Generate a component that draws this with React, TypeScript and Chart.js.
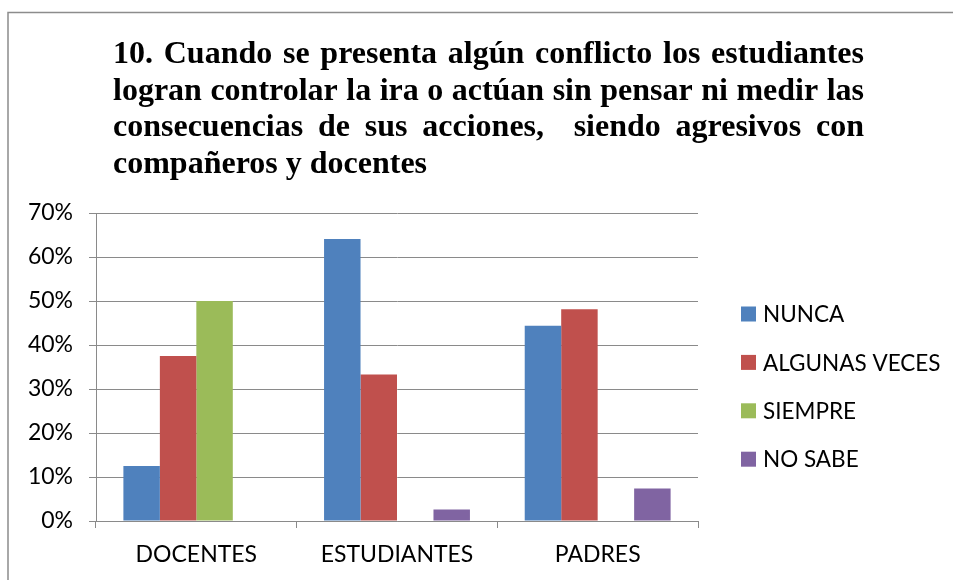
import { useEffect, useRef } from "react";
import { Chart, registerables } from "chart.js";

Chart.register(...registerables);

const categories = ["DOCENTES", "ESTUDIANTES", "PADRES"];
const seriesNames = ["NUNCA", "ALGUNAS VECES", "SIEMPRE", "NO SABE"];
const nunca = [0.125, 0.641, 0.444];
const algunasVeces = [0.375, 0.333, 0.481];
const siempre = [0.5, 0, 0];
const noSabe = [0, 0.026, 0.074];
const seriesColors = ["#4F81BD", "#C0504D", "#9BBB59", "#8064A2"];
const titleLines = [
  "10. Cuando se presenta algún conflicto los estudiantes",
  "logran controlar la ira o actúan sin pensar ni medir las",
  "consecuencias de sus acciones,  siendo agresivos con",
  "compañeros y docentes",
];

const W = 953;
const H = 580;
const AXIS_FONT = "Lato, 'Liberation Sans', sans-serif";
const GRID = "#8a8a8a";

const framePlugin = {
  id: "frame",
  beforeDraw(chart: any) {
    const ctx = chart.ctx;
    ctx.save();
    ctx.fillStyle = "#ffffff";
    ctx.fillRect(0, 0, W, H);
    ctx.strokeStyle = "#8c8c8c";
    ctx.lineWidth = 1.5;
    ctx.strokeRect(8, 12.5, W + 20, H + 20);
    ctx.restore();
  },
};

const titlePlugin = {
  id: "justifiedTitle",
  afterDraw(chart: any) {
    const ctx = chart.ctx;
    const left = 113;
    const right = 864;
    const baselines = [63, 99.7, 136.3, 173];
    ctx.save();
    ctx.fillStyle = "#000000";
    ctx.font = "bold 32px 'Liberation Serif', 'Times New Roman', serif";
    ctx.textBaseline = "alphabetic";
    ctx.textAlign = "left";
    titleLines.forEach((line, i) => {
      const y = baselines[i];
      if (i === titleLines.length - 1) {
        ctx.fillText(line, left, y);
        return;
      }
      const words = line.split(" ");
      const widths = words.map((w) => ctx.measureText(w).width);
      const total = widths.reduce((a, b) => a + b, 0);
      const gap = (right - left - total) / (words.length - 1);
      let x = left;
      words.forEach((w, j) => {
        if (w) ctx.fillText(w, x, y);
        x += widths[j] + gap;
      });
    });
    ctx.restore();
  },
};

const legendPlugin = {
  id: "sideLegend",
  afterDraw(chart: any) {
    const ctx = chart.ctx;
    const boxX = 741;
    const textX = 763;
    const startY = 314;
    const step = 48.4;
    const box = 15;
    ctx.save();
    ctx.font = "22.5px " + AXIS_FONT;
    ctx.textBaseline = "middle";
    ctx.textAlign = "left";
    chart.data.datasets.forEach((ds: any, i: number) => {
      const cy = startY + i * step;
      ctx.fillStyle = ds.backgroundColor;
      ctx.fillRect(boxX, cy - box / 2, box, box);
      ctx.fillStyle = "#000000";
      ctx.fillText(ds.label, textX, cy + 1);
    });
    ctx.restore();
  },
};

export default function App() {
  const ref = useRef<HTMLCanvasElement | null>(null);

  useEffect(() => {
    if (!ref.current) return;
    const seriesData = [nunca, algunasVeces, siempre, noSabe];
    const chart = new Chart(ref.current, {
      type: "bar",
      data: {
        labels: categories,
        datasets: seriesNames.map((name, i) => ({
          label: name,
          data: seriesData[i],
          backgroundColor: seriesColors[i],
          borderWidth: 0,
          barPercentage: 1,
          categoryPercentage: 0.727,
        })),
      },
      options: {
        responsive: false,
        animation: false,
        devicePixelRatio: 1,
        layout: { padding: { top: 213, right: 255, left: 0, bottom: 0 } },
        plugins: {
          legend: { display: false },
          title: { display: false },
          tooltip: { enabled: false },
        },
        scales: {
          x: {
            offset: true,
            grid: {
              offset: true,
              drawOnChartArea: false,
              drawTicks: true,
              tickLength: 7,
              color: GRID,
            },
            border: { display: true, color: GRID, width: 1 },
            ticks: {
              color: "#000000",
              font: { family: AXIS_FONT, size: 23 },
              padding: 13,
              maxRotation: 0,
            },
            afterFit(scale: any) {
              scale.height = 59;
            },
          },
          y: {
            min: 0,
            max: 0.7,
            grid: { color: GRID, tickLength: 7, lineWidth: 1 },
            border: { display: true, color: GRID, width: 1 },
            ticks: {
              stepSize: 0.1,
              color: "#000000",
              font: { family: AXIS_FONT, size: 23 },
              padding: 16,
              callback: (v: any) => Math.round(Number(v) * 100) + "%",
            },
            afterFit(scale: any) {
              scale.width = 96;
            },
          },
        },
      },
      plugins: [framePlugin, titlePlugin, legendPlugin],
    });
    return () => chart.destroy();
  }, []);

  return (
    <canvas
      ref={ref}
      width={W}
      height={H}
      style={{ position: "absolute", left: 0, top: 0, width: W, height: H }}
    />
  );
}
